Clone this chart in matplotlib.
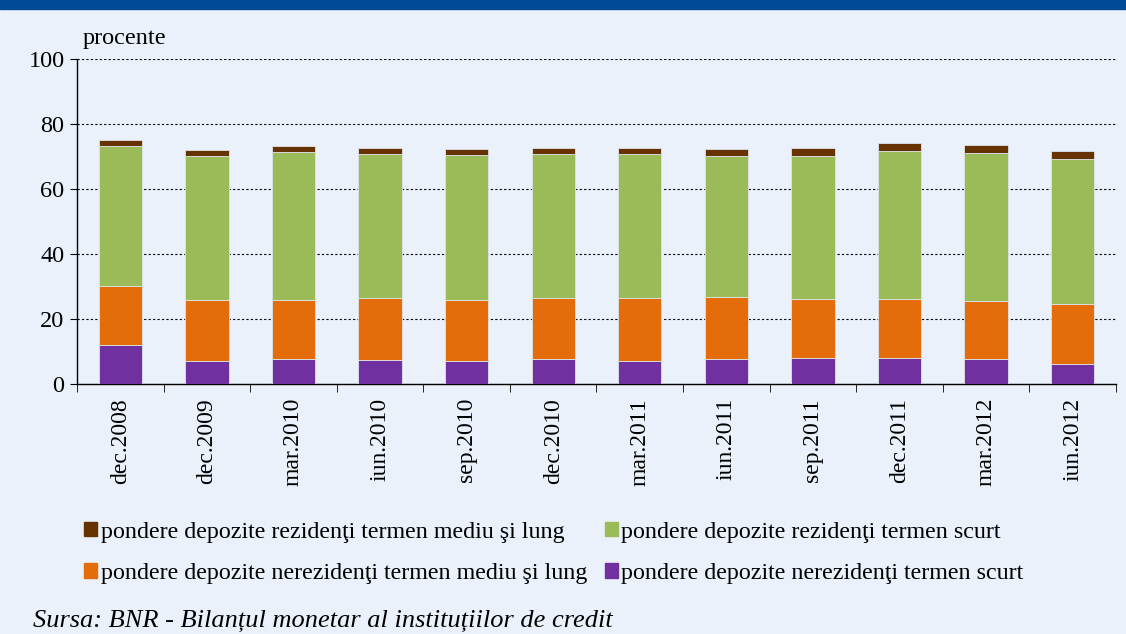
import matplotlib.pyplot as plt
import numpy as np

plt.rcParams['font.family'] = ['Liberation Serif', 'DejaVu Serif']

# bar tops (cumulative), in percent
labels = ['dec.2008', 'dec.2009', 'mar.2010', 'iun.2010', 'sep.2010', 'dec.2010',
          'mar.2011', 'iun.2011', 'sep.2011', 'dec.2011', 'mar.2012', 'iun.2012']
nerez_scurt = [12.1, 7.0, 7.6, 7.4, 7.2, 7.8, 7.2, 7.8, 8.1, 7.9, 7.8, 6.3]
nerez_mediu = [18.1, 18.9, 18.3, 19.2, 18.7, 18.6, 19.4, 19.1, 18.2, 18.4, 17.6, 18.4]
rez_scurt = [43.0, 44.4, 45.5, 44.2, 44.6, 44.3, 44.1, 43.3, 44.0, 45.5, 45.6, 44.4]
rez_mediu = [1.8, 1.8, 1.8, 1.9, 1.9, 1.9, 2.0, 2.0, 2.2, 2.2, 2.6, 2.6]

bg = '#eaf1fb'
fig = plt.figure(figsize=(11.26, 6.34), dpi=100, facecolor=bg)
# header band
fig.patches.append(plt.Rectangle((0, 1 - 9 / 634), 1, 9 / 634, transform=fig.transFigure,
                                 color='#004a97', zorder=0))

ax = fig.add_axes([0.0684, 0.3943, 0.9226, 0.5127])
ax.set_facecolor(bg)

x = np.arange(len(labels))
w = 0.5
ec = '#dde3ea'
b0 = np.zeros(len(labels))
ax.bar(x, nerez_scurt, w, bottom=b0, color='#7030a0', edgecolor=ec, linewidth=0.6, zorder=3)
b1 = b0 + np.array(nerez_scurt)
ax.bar(x, nerez_mediu, w, bottom=b1, color='#e46c0a', edgecolor=ec, linewidth=0.6, zorder=3)
b2 = b1 + np.array(nerez_mediu)
ax.bar(x, rez_scurt, w, bottom=b2, color='#9bbb59', edgecolor=ec, linewidth=0.6, zorder=3)
b3 = b2 + np.array(rez_scurt)
ax.bar(x, rez_mediu, w, bottom=b3, color='#663300', edgecolor=ec, linewidth=0.6, zorder=3)

ax.set_xlim(-0.5, len(labels) - 0.5)
ax.set_ylim(0, 100)
ax.set_yticks([0, 20, 40, 60, 80, 100])
ax.tick_params(axis='y', labelsize=17.5, length=5, direction='out', pad=4)
ax.yaxis.grid(True, linestyle=(0, (2, 2)), color='black', linewidth=0.8, zorder=1)

ax.set_xticks(x)
ax.set_xticklabels(labels, rotation=90, fontsize=17)
ax.tick_params(axis='x', which='major', length=0, pad=10)
ax.set_xticks(np.arange(-0.5, len(labels)), minor=True)
ax.tick_params(axis='x', which='minor', length=6, direction='out')

for s in ['top', 'right']:
    ax.spines[s].set_visible(False)
ax.spines['left'].set_linewidth(1.0)
ax.spines['bottom'].set_linewidth(1.0)

fig.text(0.073, 0.93, 'procente', fontsize=17.5)

handles = [
    plt.Rectangle((0, 0), 1, 1, color='#663300'),
    plt.Rectangle((0, 0), 1, 1, color='#e46c0a'),
    plt.Rectangle((0, 0), 1, 1, color='#9bbb59'),
    plt.Rectangle((0, 0), 1, 1, color='#7030a0'),
]
names = ['pondere depozite rezidenţi termen mediu şi lung',
         'pondere depozite nerezidenţi termen mediu şi lung',
         'pondere depozite rezidenţi termen scurt',
         'pondere depozite nerezidenţi termen scurt']
fig.legend(handles, names, ncol=2, loc='upper left', bbox_to_anchor=(0.064, 0.196),
           frameon=False, fontsize=17.3, handlelength=0.55, handleheight=0.55,
           handletextpad=0.15, columnspacing=0.72, labelspacing=0.85, borderpad=0)

fig.text(0.029, 0.003, 'Sursa: BNR - Bilanțul monetar al instituțiilor de credit',
         fontsize=19, style='italic', va='bottom')

fig.savefig('out.png', dpi=100, facecolor=bg)
